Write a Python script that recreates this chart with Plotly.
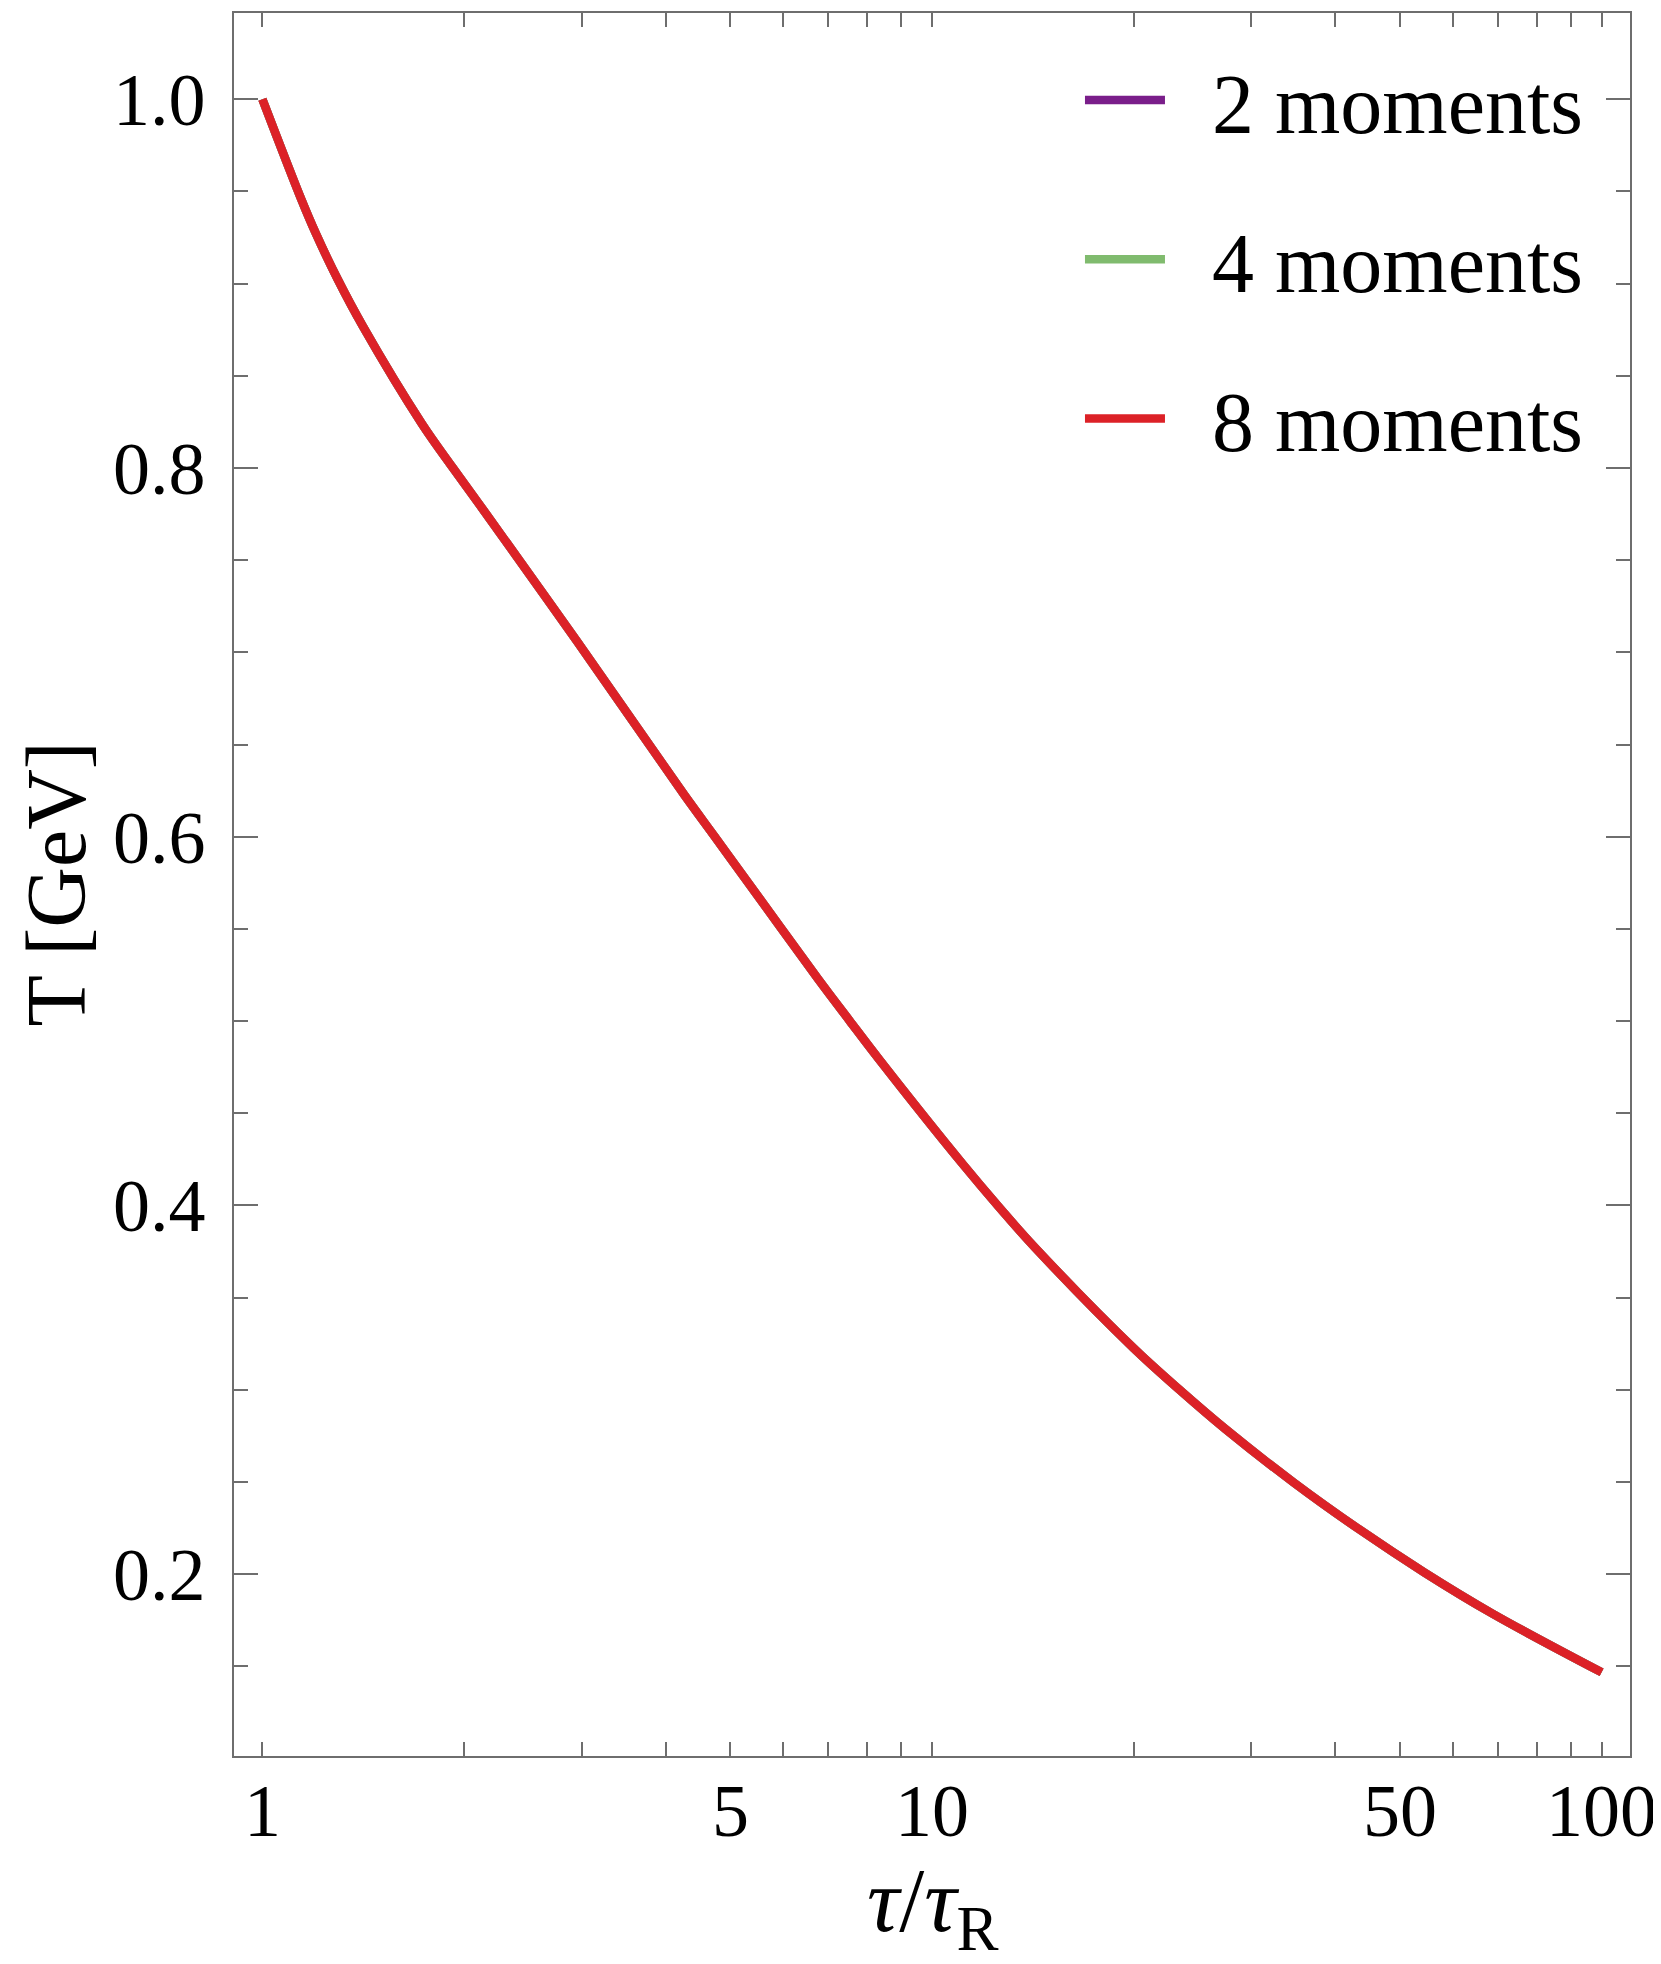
"""Temperature evolution T(tau) for the moment truncations, log time axis."""

import plotly.graph_objects as go

tau = [1.0, 1.144, 1.2, 1.295, 1.413, 1.73, 1.92, 2.126, 2.95, 4.263, 4.73,
       5.239, 6.764, 7.53, 8.36, 11.14, 12.56, 14.24, 20.02, 23.4, 27.44,
       34.7, 43.5, 54.4, 68.8, 100.0]

# T [GeV]; the three truncations lie on top of each other
T_2 = [1.0, 0.9454, 0.9277, 0.9025, 0.8768, 0.8241, 0.8007, 0.7785, 0.706, 0.6229,
       0.6004, 0.5782, 0.5227, 0.5003, 0.4787, 0.422, 0.3996, 0.3773, 0.3225,
       0.3002, 0.2787, 0.2497, 0.2242, 0.2009, 0.1785, 0.1468]
T_4 = [1.0, 0.9454, 0.9277, 0.9025, 0.8768, 0.8241, 0.8007, 0.7785, 0.706, 0.6229,
       0.6004, 0.5782, 0.5227, 0.5003, 0.4787, 0.422, 0.3996, 0.3773, 0.3225,
       0.3002, 0.2787, 0.2497, 0.2242, 0.2009, 0.1785, 0.1468]
T_8 = [1.0, 0.9454, 0.9277, 0.9025, 0.8768, 0.8241, 0.8007, 0.7785, 0.706, 0.6229,
       0.6004, 0.5782, 0.5227, 0.5003, 0.4787, 0.422, 0.3996, 0.3773, 0.3225,
       0.3002, 0.2787, 0.2497, 0.2242, 0.2009, 0.1785, 0.1468]

series_names = ["2 moments", "4 moments", "8 moments"]
series_colors = ["#7a1e8a", "#80bb6e", "#dc2127"]

x_tickvals = [1, 2, 3, 4, 5, 6, 7, 8, 9, 10, 20, 30, 40, 50, 60, 70, 80, 90, 100]
x_ticktext = ["1", "", "", "", "5", "", "", "", "", "10",
              "", "", "", "50", "", "", "", "", "100"]
y_tickvals = [0.2, 0.4, 0.6, 0.8, 1.0]
y_ticktext = ["0.2", "0.4", "0.6", "0.8", "1.0"]

FONT = "Liberation Serif, Times New Roman, serif"
FRAME = "#6e6e6e"
GAP = "\u00a0\u00a0"  # space between legend swatch and label

fig = go.Figure()
for name, color, ys in zip(series_names, series_colors, [T_2, T_4, T_8]):
    fig.add_trace(go.Scatter(
        x=tau, y=ys, mode="lines", name=GAP + name, legendgroup=name,
        line=dict(color=color, width=8.5, shape="spline", smoothing=1.0),
    ))

# the page body adds an 8px offset, so the figure is 8px smaller than the window
fig.update_layout(
    width=1653, height=1956,
    margin=dict(l=226, r=31, t=5, b=208),
    paper_bgcolor="white", plot_bgcolor="white",
    font=dict(family=FONT, size=74, color="black"),
    showlegend=True,
    legend=dict(
        x=0.606, y=0.9851, xanchor="left", yanchor="top",
        bgcolor="rgba(0,0,0,0)", font=dict(size=84),
        tracegroupgap=47, itemwidth=80,
    ),
    annotations=[
        dict(text="<i>τ</i>/<i>τ</i><sub>R</sub>", xref="paper", yref="paper",
             x=0.5, y=-0.0872, xanchor="center", yanchor="middle",
             showarrow=False, font=dict(size=90)),
        dict(text="T [GeV]", xref="paper", yref="paper", textangle=-90,
             x=-0.1275, y=0.5, xanchor="center", yanchor="middle",
             showarrow=False, font=dict(size=84)),
    ],
)

fig.update_xaxes(
    type="log", range=[-0.0424, 2.0424], automargin=False,
    tickmode="array", tickvals=x_tickvals, ticktext=x_ticktext,
    ticks="inside", ticklen=14, tickwidth=1.5, tickcolor=FRAME,
    showline=True, linecolor=FRAME, linewidth=1.5, mirror="allticks",
    showgrid=False, zeroline=False, ticklabelstandoff=-11,
)

fig.update_yaxes(
    range=[0.1014, 1.0468], automargin=False,
    tickmode="array", tickvals=y_tickvals, ticktext=y_ticktext,
    ticks="inside", ticklen=24, tickwidth=1.5, tickcolor=FRAME,
    minor=dict(tick0=0, dtick=0.05, ticks="inside", ticklen=14,
               tickwidth=1.5, tickcolor=FRAME, showgrid=False),
    showline=True, linecolor=FRAME, linewidth=1.5, mirror="allticks",
    showgrid=False, zeroline=False, ticklabelstandoff=12,
)

fig.write_html("out.html")
